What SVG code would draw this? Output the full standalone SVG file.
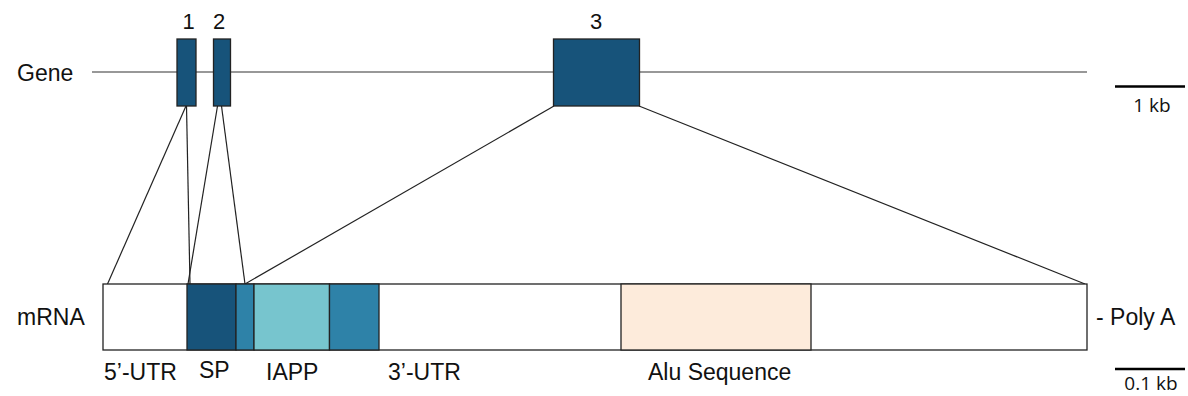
<svg xmlns="http://www.w3.org/2000/svg" width="1188" height="396" viewBox="0 0 1188 396">
<style>
text{font-family:"Liberation Sans",Arial,sans-serif;fill:#111}
.lbl{font-size:23px}
.num{font-size:22px;text-anchor:middle}
.scale{font-family:"Open Sans","Noto Sans",sans-serif;font-size:19px;text-anchor:middle}
.ex{fill:#17537A;stroke:#222;stroke-width:1.3}
.seg{stroke:#222;stroke-width:1.3}
.conn line{stroke:#222;stroke-width:1.2;fill:none}
.bar{stroke:#000;stroke-width:2.6}
</style>
<rect width="1188" height="396" fill="#fff"/>
<g id="gene-label"><text class="lbl" x="17" y="81">Gene</text></g>
<g id="gene-line"><line x1="92" y1="72" x2="1087" y2="72" stroke="#333" stroke-width="1.2"/></g>
<g id="connectors" class="conn">
<line x1="186" y1="106" x2="107.5" y2="284"/>
<line x1="186.5" y1="106" x2="190" y2="284"/>
<line x1="217.5" y1="106" x2="188" y2="284"/>
<line x1="221.5" y1="106" x2="245" y2="284"/>
<line x1="554" y1="106" x2="245" y2="284"/>
<line x1="639" y1="106" x2="1085" y2="284"/>
</g>
<g id="exon1"><rect class="ex" x="177" y="39" width="19" height="67"/><text class="num" x="188.5" y="29">1</text></g>
<g id="exon2"><rect class="ex" x="213.5" y="39" width="17" height="67"/><text class="num" x="219" y="29">2</text></g>
<g id="exon3"><rect class="ex" x="553.5" y="39" width="86" height="67"/><text class="num" x="596" y="29">3</text></g>
<g id="scale-1kb"><line class="bar" x1="1115" y1="86.5" x2="1185" y2="86.5"/><text class="scale" x="1152" y="112">1 kb</text></g>
<g id="mrna-label"><text class="lbl" x="17" y="325">mRNA</text></g>
<g id="mrna">
<rect x="103" y="284" width="984" height="66" fill="#fff" stroke="#222" stroke-width="1.3"/>
<rect class="seg" x="187" y="284" width="49" height="66" fill="#17537A"/>
<rect class="seg" x="236" y="284" width="18" height="66" fill="#2E82A8"/>
<rect class="seg" x="254" y="284" width="75.5" height="66" fill="#77C5CE"/>
<rect class="seg" x="329.5" y="284" width="49.5" height="66" fill="#2E82A8"/>
<rect class="seg" x="621" y="284" width="190" height="66" fill="#FDEBDB" stroke="#444"/>
</g>
<g id="labels">
<text class="lbl" x="104" y="380">5’-UTR</text>
<text class="lbl" x="199" y="378">SP</text>
<text class="lbl" x="266" y="380">IAPP</text>
<text class="lbl" x="388" y="380">3’-UTR</text>
<text class="lbl" x="648" y="380">Alu Sequence</text>
<text class="lbl" x="1096" y="325">- Poly A</text>
</g>
<g id="scale-01kb"><line class="bar" x1="1115" y1="369" x2="1185" y2="369"/><text class="scale" x="1151" y="390">0.1 kb</text></g>
</svg>
